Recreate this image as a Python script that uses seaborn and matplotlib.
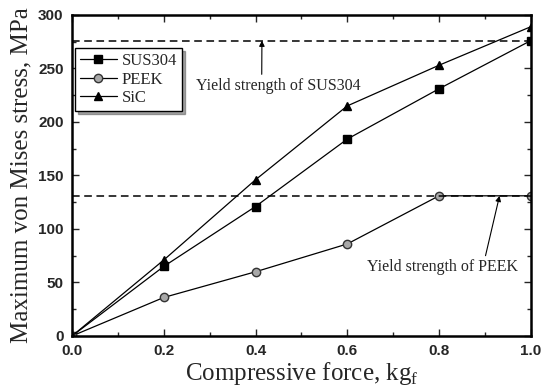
import pandas as pd
import numpy as np
import matplotlib
matplotlib.use("Agg")
import matplotlib.pyplot as plt
from matplotlib.ticker import MultipleLocator, FormatStrFormatter
import seaborn as sns

# values
force = [0.0, 0.2, 0.4, 0.6, 0.8, 1.0]
sus304 = [0, 65, 121, 184, 231, 276]
peek = [0, 36, 60, 86, 131, 131]
sic = [0, 71, 146, 215, 253, 289]
yield_sus304 = 276
yield_peek = 131

df = pd.DataFrame({"force": force * 3,
                   "stress": sus304 + peek + sic,
                   "material": ["SUS304"] * 6 + ["PEEK"] * 6 + ["SiC"] * 6})

sns.set_style("ticks")
plt.rcParams['font.family'] = ['Liberation Sans', 'DejaVu Sans']

fig = plt.figure(figsize=(5.54, 3.91), dpi=100)
ax = fig.add_axes([0.130, 0.1407, 0.828, 0.821])

markers = {"SUS304": "s", "PEEK": "o", "SiC": "^"}
faces = {"SUS304": "black", "PEEK": "#a8a8a8", "SiC": "black"}
for mat in ["SUS304", "PEEK", "SiC"]:
    sub = df[df["material"] == mat]
    sns.lineplot(data=sub, x="force", y="stress", ax=ax, color="black", lw=0.9,
                 marker=markers[mat], markersize=6, markerfacecolor=faces[mat],
                 markeredgecolor="black" if mat != "PEEK" else "#333333",
                 markeredgewidth=1.0, label=mat)

ax.axhline(yield_sus304, color="black", ls=(0, (5, 3)), lw=1.1)
ax.axhline(yield_peek, color="black", ls=(0, (5, 3)), lw=1.1)

serif = ['Liberation Serif', 'DejaVu Serif']
ax.annotate("Yield strength of SUS304", xy=(0.414, yield_sus304), xytext=(0.27, 234),
            fontsize=11.5, family=serif, va="center",
            arrowprops=dict(arrowstyle="-|>", color="black", lw=0.8, mutation_scale=8,
                            shrinkA=0, shrinkB=0, relpos=(0.4, 1.0)))
ax.annotate("Yield strength of PEEK", xy=(0.932, yield_peek), xytext=(0.643, 64.5),
            fontsize=11.5, family=serif, va="center",
            arrowprops=dict(arrowstyle="-|>", color="black", lw=0.8, mutation_scale=8,
                            shrinkA=0, shrinkB=0, relpos=(0.78, 1.0)))

ax.xaxis.set_major_locator(MultipleLocator(0.2))
ax.xaxis.set_minor_locator(MultipleLocator(0.1))
ax.xaxis.set_major_formatter(FormatStrFormatter("%.1f"))
ax.yaxis.set_major_locator(MultipleLocator(50))
ax.yaxis.set_minor_locator(MultipleLocator(25))
ax.set_xlim(0, 1.0)
ax.set_ylim(0, 300)
ax.tick_params(which="both", direction="in", top=True, right=True, labelsize=11, width=1.0)
ax.tick_params(which="major", length=5)
ax.tick_params(which="minor", length=3)
ax.tick_params(axis="x", pad=6)
ax.tick_params(axis="y", pad=6)
for lab in ax.get_xticklabels() + ax.get_yticklabels():
    lab.set_fontweight("bold")
for sp in ax.spines.values():
    sp.set_linewidth(1.8)
    sp.set_color("black")

ax.set_xlabel("Compressive force, kg$_\\mathregular{f}$", fontsize=18, family=serif, labelpad=1)
ax.set_ylabel("Maximum von Mises stress, MPa", fontsize=18, family=serif, labelpad=4)

leg = ax.legend(loc="upper left", bbox_to_anchor=(0.0065, 0.897), borderaxespad=0,
                frameon=True, fancybox=False, shadow=True, edgecolor="black",
                prop={"family": serif, "size": 12}, handlelength=2.2,
                handletextpad=0.3, labelspacing=0.15, borderpad=0.3)
leg.get_frame().set_linewidth(1.0)

fig.savefig("out.png", dpi=100)
